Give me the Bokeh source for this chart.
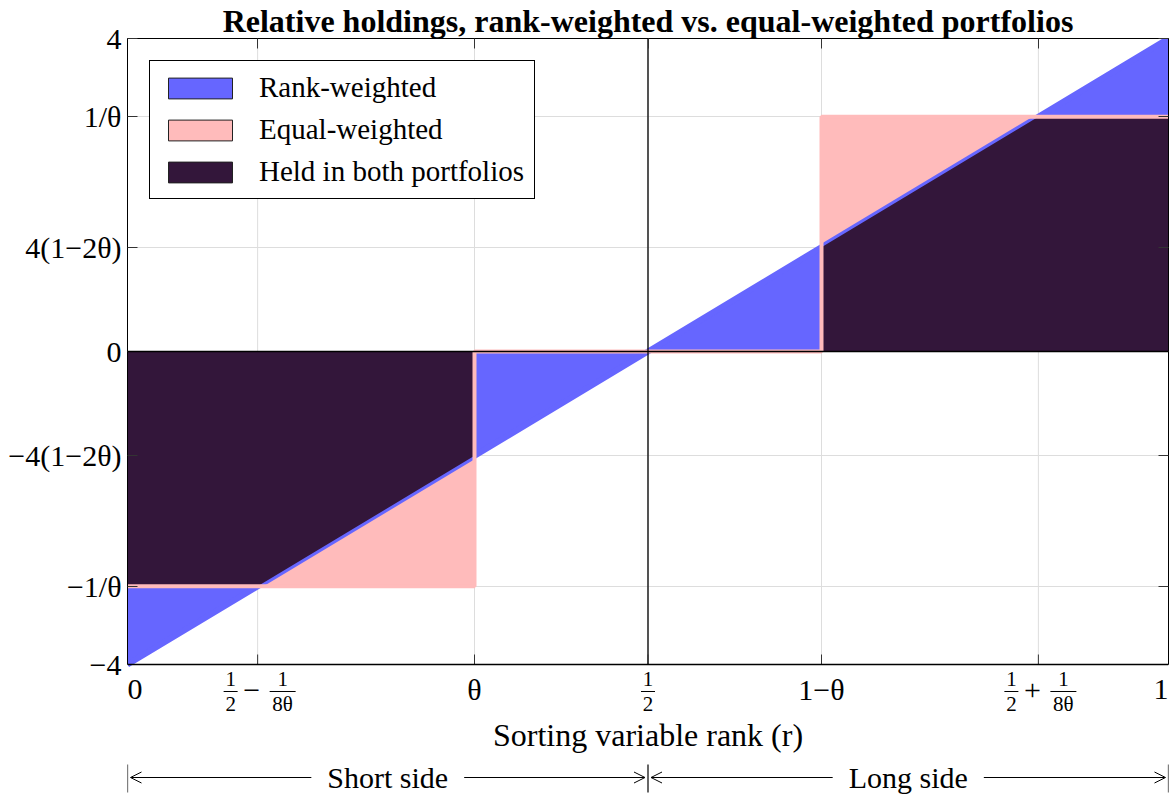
import numpy as np
from bokeh.plotting import figure
from bokeh.models import (Range1d, FixedTicker, LinearAxis, Span, Legend, LegendItem,
                          Arrow, OpenHead, Label)
from bokeh.embed import file_html
from bokeh.resources import INLINE

# ---------------- data ----------------
theta = 1.0 / 3.0                     # 1/theta = 3 on the y axis
rank_r = [0.0, 0.5, 1.0]              # rank-weighted holdings (linear in r)
rank_w = [-4.0, 0.0, 4.0]
equal_r = [0.0, theta, theta, 1 - theta, 1 - theta, 1.0]   # equal-weighted step
equal_w = [-3.0, -3.0, 0.0, 0.0, 3.0, 3.0]

x_ticks = [0.0, 0.125, theta, 0.5, 1 - theta, 0.875, 1.0]
y_ticks = [-4.0, -3.0, -4.0 / 3.0, 0.0, 4.0 / 3.0, 3.0, 4.0]
y_tick_labels = ["−4", "−1/θ", "−4(1−2θ)", "0", "4(1−2θ)", "1/θ", "4"]
x_simple_ticks = [0.0, theta, 1 - theta, 1.0]
x_simple_labels = ["0", "θ", "1−θ", "1"]
x_half_tick = 0.5
x_frac_ticks = [0.125, 0.875]
x_frac_ops = ["−", "+"]
side_centers = [0.25, 0.75]
side_labels = ["Short side", "Long side"]
side_edges = [0.0, 0.5, 1.0]

series_names = ["Rank-weighted", "Equal-weighted", "Held in both portfolios"]
BLUE, PINK, DARK = "#6666ff", "#ffbbbb", "#33163a"
FONT = "Liberation Serif"
FS = "30px"

# overlap ("held in both") computed from the two series
cross = np.interp([equal_w[0], equal_w[-1]], rank_w, rank_r)
ov_x = np.array([equal_r[0], cross[0], equal_r[1], equal_r[2], equal_r[3],
                 equal_r[4], cross[1], equal_r[5]])
eq_v = np.array([equal_w[0], equal_w[0], equal_w[1], equal_w[2], equal_w[3],
                 equal_w[4], equal_w[5], equal_w[5]])
rk_v = np.interp(ov_x, rank_r, rank_w)
ov_y = np.where(eq_v * rk_v > 0, np.sign(eq_v) * np.minimum(np.abs(eq_v), np.abs(rk_v)), 0.0)

# ---------------- geometry (styles) ----------------
FW = 1041           # frame width (px)
MAIN_PX = 626       # height of the -4..4 region (px)
EXTRA_PX = 130      # strip under the chart for tick labels / axis label / sides
BL, BR = 127, 8
Y0, Y1 = y_ticks[0], y_ticks[-1]
k = MAIN_PX / (Y1 - Y0)      # px per y unit


def below(px):
    return Y0 - px / k


p = figure(width=BL + FW + BR, height=37 + MAIN_PX + EXTRA_PX,
           frame_width=FW, frame_height=MAIN_PX + EXTRA_PX,
           x_range=Range1d(0, 1), y_range=Range1d(below(EXTRA_PX), Y1),
           x_axis_location=None, y_axis_location="left",
           output_backend="svg", toolbar_location=None,
           min_border_left=BL, min_border_right=BR, min_border_top=0, min_border_bottom=0,
           title="Relative holdings, rank-weighted vs. equal-weighted portfolios")
p.title.text_font = FONT
p.title.text_font_style = "bold"
p.title.text_font_size = "32px"
p.title.text_color = "black"
p.title.align = "center"
p.title.standoff = 0
p.outline_line_color = None

p.yaxis.ticker = FixedTicker(ticks=y_ticks)
p.yaxis.bounds = (Y0, Y1)
p.yaxis.major_label_overrides = {t: l for t, l in zip(y_ticks, y_tick_labels)}
p.yaxis.major_label_text_font = FONT
p.yaxis.major_label_text_font_size = FS
p.yaxis.major_label_text_color = "black"
p.yaxis.major_label_standoff = 6
p.yaxis.major_tick_in = 10
p.yaxis.major_tick_out = 0
p.yaxis.minor_tick_line_color = None
p.yaxis.axis_line_color = "black"
p.yaxis.major_tick_line_color = "#333333"

for loc, tk in (("above", x_ticks), ("right", y_ticks)):
    a = LinearAxis(ticker=FixedTicker(ticks=tk), major_label_text_font_size="1px",
                   major_label_text_color=None, major_label_standoff=0,
                   major_tick_in=10, major_tick_out=0,
                   minor_tick_line_color=None, axis_line_color="black",
                   major_tick_line_color="#333333")
    if loc == "right":
        a.bounds = (Y0, Y1)
    p.add_layout(a, loc)

# grid: horizontal lines from the y grid, vertical lines limited to the -4..4 region
p.xgrid.visible = False
p.ygrid.ticker = FixedTicker(ticks=y_ticks)
p.ygrid.grid_line_color = "#dddddd"
p.ygrid.grid_line_width = 1
p.segment(x0=x_ticks, x1=x_ticks, y0=[Y0] * len(x_ticks), y1=[Y1] * len(x_ticks),
          line_color="#dddddd", line_width=1, level="underlay")

# ---- data marks ----
p.varea(x=rank_r, y1=rank_w, y2=0, fill_color=BLUE)
p.varea(x=equal_r, y1=equal_w, y2=0, fill_color=PINK)
p.line(x=rank_r, y=rank_w, line_color=BLUE, line_width=6)
p.varea(x=ov_x, y1=ov_y, y2=0, fill_color=DARK)
p.line(x=equal_r, y=equal_w, line_color=PINK, line_width=4)

# axis lines (r = 1/2, weight = 0) and bottom frame edge
p.segment(x0=[side_edges[1]], x1=[side_edges[1]], y0=[Y0], y1=[Y1], line_color="black", line_width=1.3)
p.add_layout(Span(location=0.0, dimension="width", line_color="black", line_width=1.3))
p.add_layout(Span(location=Y0, dimension="width", line_color="black", line_width=1.3))
# inward bottom ticks
p.segment(x0=x_ticks, x1=x_ticks, y0=[Y0] * len(x_ticks), y1=[Y0 + 10 / k] * len(x_ticks),
          line_color="#333333", line_width=1)

# ---- legend ----
dummies = []
for c in (BLUE, PINK, DARK):
    dummies.append(p.quad(left=[np.nan], right=[np.nan], top=[np.nan], bottom=[np.nan],
                          fill_color=c, line_color="#222222", line_width=1))
legend = Legend(items=[LegendItem(label=n, renderers=[d]) for n, d in zip(series_names, dummies)],
                location="top_left", margin=22, padding=10, spacing=9,
                glyph_width=80, glyph_height=26, label_standoff=19,
                label_text_font=FONT, label_text_font_size="29px", label_text_color="black",
                border_line_color="black", border_line_width=1, border_line_alpha=1,
                background_fill_alpha=1)
p.add_layout(legend)


# ---- strip under the chart: tick labels, axis label, sides ----
def lab(x, px, text, size=FS, dx=0, align="center"):
    p.add_layout(Label(x=x, y=below(px), text=text, x_offset=dx, text_font=FONT,
                       text_font_size=size, text_color="black",
                       text_align=align, text_baseline="middle"))


Y_LAB, Y_NUM, Y_BAR, Y_DEN = 25, 14, 27, 39
n_simple = len(x_simple_ticks)
for i, (t, s) in enumerate(zip(x_simple_ticks, x_simple_labels)):
    align = "left" if i == 0 else ("right" if i == n_simple - 1 else "center")
    lab(t, Y_LAB, s, FS, 0, align)

bars_x0, bars_x1 = [], []


def frac(t, dx, num, den, half):
    lab(t, Y_NUM, num, "21px", dx)
    lab(t, Y_DEN, den, "21px", dx)
    bars_x0.append(t + (dx - half) / FW)
    bars_x1.append(t + (dx + half) / FW)


frac(x_half_tick, 0, "1", "2", 7)
for t, op in zip(x_frac_ticks, x_frac_ops):
    frac(t, -27, "1", "2", 7)
    lab(t, Y_BAR - 1, op, FS, -6)
    frac(t, 25, "1", "8θ", 13)
p.segment(x0=bars_x0, x1=bars_x1, y0=[below(Y_BAR)] * len(bars_x0), y1=[below(Y_BAR)] * len(bars_x0),
          line_color="black", line_width=1)

lab(0.5, 70, "Sorting variable rank (r)", "32px")

Y_SIDE = 113
for e in side_edges:
    p.add_layout(Arrow(x_start=e, x_end=e, y_start=below(Y_SIDE - 13), y_end=below(Y_SIDE + 15),
                       start=None, end=None, line_color="black", line_width=1.2))
for i, (c, s) in enumerate(zip(side_centers, side_labels)):
    p.add_layout(Arrow(x_start=side_edges[i] + 3 / FW, x_end=side_edges[i + 1] - 3 / FW,
                       y_start=below(Y_SIDE), y_end=below(Y_SIDE),
                       start=OpenHead(size=11, line_width=1), end=OpenHead(size=11, line_width=1),
                       line_width=1, line_color="black"))
for c, s in zip(side_centers, side_labels):
    p.add_layout(Label(x=c, y=below(Y_SIDE), text=s, text_font=FONT, text_font_size=FS,
                       text_color="black", text_align="center", text_baseline="middle",
                       background_fill_color="white", padding=16))

open("out.html", "w").write(file_html(p, INLINE))
